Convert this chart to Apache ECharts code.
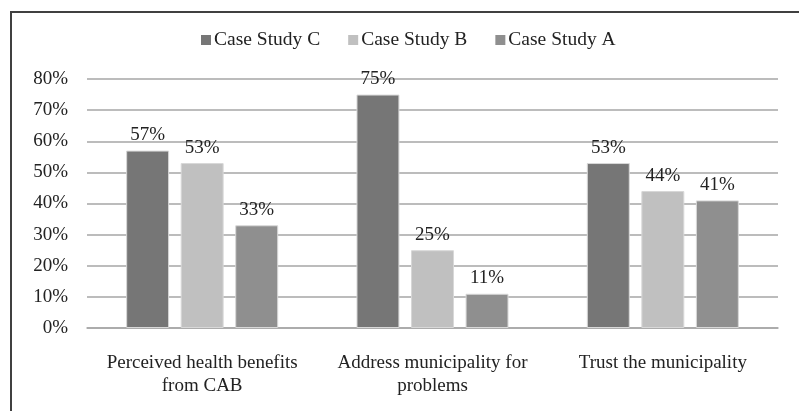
<!DOCTYPE html>
<html>
<head>
<meta charset="utf-8">
<script src="https://cdn.jsdelivr.net/npm/echarts@6/dist/echarts.min.js"></script>
<style>html,body{margin:0;padding:0;background:#fff;}#c{width:799px;height:411px;}</style>
</head>
<body>
<div id="c"></div>
<script>
const categories = ["Perceived health benefits\nfrom CAB", "Address municipality for\nproblems", "Trust the municipality"];
const seriesNames = ["Case Study C", "Case Study B", "Case Study A"];
const caseC = [57, 75, 53];
const caseB = [53, 25, 44];
const caseA = [33, 11, 41];
const yTicks = [0, 10, 20, 30, 40, 50, 60, 70, 80];

const FONT = "'Liberation Serif', 'Times New Roman', serif";
const colors = ['#767676', '#c0c0c0', '#8f8f8f'];
const values = [caseC, caseB, caseA];

const chart = echarts.init(document.getElementById('c'));
chart.setOption({
  animation: false,
  color: colors,
  textStyle: { fontFamily: FONT },
  graphic: [{
    type: 'rect', silent: true,
    shape: { x: 11, y: 12, width: 820, height: 430 },
    style: { fill: 'none', stroke: '#404040', lineWidth: 2 }
  }],
  legend: {
    left: 196, top: 25,
    itemWidth: 10, itemHeight: 10, itemGap: 28,
    icon: 'rect',
    itemStyle: { borderWidth: 0 },
    textStyle: { fontFamily: FONT, fontSize: 19.5, color: '#222', lineHeight: 20, padding: [0, 0, 0, -2] },
    data: seriesNames
  },
  grid: { left: 87, right: 21, top: 79, bottom: 83, containLabel: false },
  xAxis: {
    type: 'category',
    data: categories,
    axisLine: { show: true, lineStyle: { color: '#a6a6a6', width: 1.5 } },
    axisTick: { show: false },
    axisLabel: { fontFamily: FONT, fontSize: 19, color: '#222', lineHeight: 23, margin: 24, interval: 0 }
  },
  yAxis: {
    type: 'value',
    min: yTicks[0], max: yTicks[yTicks.length - 1], interval: 10,
    axisLine: { show: false },
    axisTick: { show: false },
    splitLine: { lineStyle: { color: '#a6a6a6', width: 1.5 } },
    axisLabel: { fontFamily: FONT, fontSize: 19, color: '#222', margin: 19, formatter: '{value}%' }
  },
  series: seriesNames.map((n, i) => ({
    name: n,
    type: 'bar',
    data: values[i],
    barGap: '27%',
    barCategoryGap: '34%',
    itemStyle: { color: colors[i], borderColor: '#d8d8d8', borderWidth: 1 },
    label: { show: true, position: 'top', distance: 6, formatter: '{c}%', fontFamily: FONT, fontSize: 19, color: '#222' }
  }))
});
</script>
</body>
</html>
